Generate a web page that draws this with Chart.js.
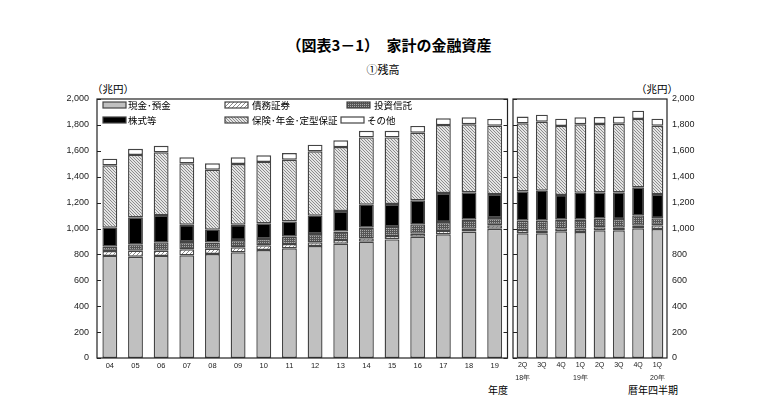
<!DOCTYPE html>
<html>
<head>
<meta charset="utf-8">
<script src="https://cdn.jsdelivr.net/npm/chart.js@4.4.1/dist/chart.umd.min.js"></script>
<style>
  body { margin: 0; background: #fff; width: 769px; height: 412px; position: relative; overflow: hidden;
         font-family: "Noto Sans CJK JP", sans-serif; }
  .t { position: absolute; white-space: nowrap; color: #000; line-height: 1; }
  canvas { position: absolute; top: 0; }
</style>
</head>
<body>
<div class="t" style="left:0;width:778px;text-align:center;top:37px;font-size:15px;font-weight:bold">（図表3－1）　家計の金融資産</div>
<div class="t" style="left:0;width:766px;text-align:center;top:64px;font-size:11px">①残高</div>
<div class="t" style="left:92px;top:84px;font-size:10.5px">（兆円）</div>
<div class="t" style="left:636px;top:84px;font-size:10.5px">（兆円）</div>
<div class="t" style="left:488px;top:385px;font-size:10px">年度</div>
<div class="t" style="left:628px;top:385px;font-size:10px">暦年四半期</div>
<canvas id="left" width="510" height="412" style="left:0"></canvas>
<canvas id="right" width="259" height="412" style="left:510px"></canvas>
<script>
// ---- data: fiscal years (left panel) ----
const FY_LABELS = ["04","05","06","07","08","09","10","11","12","13","14","15","16","17","18","19"];
const FY_CASH      = [788,782,788,793,803,816,834,847,865,883,898,916,937,955,976,998];
const FY_BONDS     = [38,47,41,46,41,39,36,33,28,28,26,26,23,26,22,27];
const FY_TRUSTS    = [34,49,64,57,47,56,49,57,65,65,82,70,72,69,70,56];
const FY_STOCKS    = [146,208,211,133,100,118,121,118,141,159,178,177,186,224,211,185];
const FY_INSURANCE = [482,482,484,474,463,469,474,476,497,494,519,514,522,525,526,528];
const FY_OTHER     = [51,48,51,47,49,52,51,52,51,52,52,52,52,52,54,52];

// ---- data: calendar quarters (right panel) ----
const Q_LABELS = [["2Q","18年"],["3Q",""],["4Q",""],["1Q","19年"],["2Q",""],["3Q",""],["4Q",""],["1Q","20年"]];
const Q_CASH      = [963,963,978,973,986,986,1001,996];
const Q_BONDS     = [25,20,23,25,23,20,21,29];
const Q_TRUSTS    = [72,77,67,70,67,67,80,54];
const Q_STOCKS    = [227,232,191,209,203,206,216,187];
const Q_INSURANCE = [525,533,533,528,528,530,528,528];
const Q_OTHER     = [52,54,56,54,54,55,64,54];

const SERIES_NAMES = ["現金･預金","債務証券","投資信託","株式等","保険･年金･定型保証","その他"];
const Y_MIN = 0, Y_MAX = 2000, Y_STEP = 200;

// ---- fills ----
function hatchTile(dir, bg, fg, size) {
  const c = document.createElement("canvas");
  c.width = c.height = size;
  const g = c.getContext("2d");
  g.fillStyle = bg; g.fillRect(0, 0, size, size);
  g.strokeStyle = fg; g.lineWidth = 1;
  g.beginPath();
  if (dir > 0) {
    g.moveTo(0, size); g.lineTo(size, 0);
    g.moveTo(-1, 1); g.lineTo(1, -1);
    g.moveTo(size - 1, size + 1); g.lineTo(size + 1, size - 1);
  } else {
    g.moveTo(0, 0); g.lineTo(size, size);
    g.moveTo(-1, size - 1); g.lineTo(1, size + 1);
    g.moveTo(size - 1, -1); g.lineTo(size + 1, 1);
  }
  g.stroke();
  return c;
}
function dotTile() {
  const c = document.createElement("canvas");
  c.width = c.height = 4;
  const g = c.getContext("2d");
  g.fillStyle = "#555"; g.fillRect(0, 0, 4, 4);
  g.fillStyle = "#a8a8a8";
  g.fillRect(0, 0, 1, 1); g.fillRect(2, 2, 1, 1);
  g.fillRect(2, 0, 1, 1); g.fillRect(0, 2, 1, 1);
  return c;
}

function fillsFor(ctx) {
  return [
    "#c0c0c0",
    ctx.createPattern(hatchTile(1, "#fff", "#8a8a8a", 4), "repeat"),
    ctx.createPattern(dotTile(), "repeat"),
    "#000",
    ctx.createPattern(hatchTile(-1, "#e4e4e4", "#8c8c8c", 3), "repeat"),
    "#fff"
  ];
}

const BORDER = "#444";

function buildDatasets(ctx, arrays, barPct) {
  const fills = fillsFor(ctx);
  return arrays.map((arr, i) => ({
    label: SERIES_NAMES[i],
    data: arr,
    backgroundColor: fills[i],
    borderColor: BORDER,
    borderWidth: 1.4,
    borderSkipped: false,
    barPercentage: barPct,
    categoryPercentage: 1
  }));
}

// frame + inward ticks
const framePlugin = {
  id: "frame",
  afterDatasetsDraw(chart, args, opts) {
    const { ctx, chartArea: a, scales: { y } } = chart;
    ctx.save();
    ctx.strokeStyle = "#222";
    ctx.lineWidth = 1.2;
    ctx.strokeRect(a.left, a.top, a.right - a.left, a.bottom - a.top);
    ctx.lineWidth = 1;
    y.ticks.forEach(t => {
      const py = Math.round(y.getPixelForValue(t.value)) + 0.5;
      ctx.beginPath();
      if (opts.left) { ctx.moveTo(a.left, py); ctx.lineTo(a.left + 4, py); }
      if (opts.right) { ctx.moveTo(a.right, py); ctx.lineTo(a.right - 4, py); }
      ctx.stroke();
    });
    ctx.restore();
  }
};

// legend drawn inside the left panel
const LEGEND_LAYOUT = [
  { series: 0, sx: 103, tx: 128, y: 105 },
  { series: 1, sx: 225, tx: 252, y: 105 },
  { series: 2, sx: 347, tx: 374, y: 105 },
  { series: 3, sx: 103, tx: 128, y: 120 },
  { series: 4, sx: 225, tx: 252, y: 120 },
  { series: 5, sx: 341, tx: 367, y: 120 }
];
const legendPlugin = {
  id: "boxLegend",
  afterDraw(chart) {
    const ctx = chart.ctx;
    ctx.save();
    ctx.font = '9.5px "Noto Sans CJK JP"';
    ctx.textBaseline = "middle";
    LEGEND_LAYOUT.forEach(it => {
      const ds = chart.data.datasets[it.series];
      ctx.fillStyle = ds.backgroundColor;
      ctx.fillRect(it.sx, it.y - 3, 23, 6);
      ctx.strokeStyle = BORDER;
      ctx.lineWidth = 1.2;
      ctx.strokeRect(it.sx, it.y - 3, 23, 6);
      ctx.fillStyle = "#000";
      const maxW = (it.series === 4) ? 86 : undefined;
      if (maxW) ctx.fillText(ds.label, it.tx, it.y + 0.5, maxW);
      else ctx.fillText(ds.label, it.tx, it.y + 0.5);
    });
    ctx.restore();
  }
};

const tickFont = { family: '"Liberation Sans", Arial, sans-serif', size: 9 };
const xFont = { family: '"Liberation Sans", Arial, sans-serif', size: 7.5 };

function yScale(position, width, pad) {
  return {
    position,
    stacked: true,
    min: Y_MIN, max: Y_MAX,
    grid: { display: false, drawTicks: false },
    border: { display: false },
    ticks: { stepSize: Y_STEP, font: tickFont, color: "#222", padding: pad,
             callback: v => v.toLocaleString("en-US") },
    afterFit: s => { s.width = width; }
  };
}

// left chart
const lctx = document.getElementById("left").getContext("2d");
new Chart(lctx, {
  type: "bar",
  data: {
    labels: FY_LABELS,
    datasets: buildDatasets(lctx, [FY_CASH, FY_BONDS, FY_TRUSTS, FY_STOCKS, FY_INSURANCE, FY_OTHER], 0.58)
  },
  options: {
    responsive: false,
    animation: false,
    layout: { padding: { top: 99, right: 2.5, left: 0, bottom: 0 } },
    plugins: { legend: { display: false }, tooltip: { enabled: false }, frame: { left: true, right: true } },
    scales: {
      x: {
        stacked: true,
        grid: { display: false, drawTicks: false },
        border: { display: false },
        ticks: { font: xFont, color: "#222", padding: 3.5, maxRotation: 0, autoSkip: false },
        afterFit: s => { s.height = 54; }
      },
      y: yScale("left", 97, 8)
    }
  },
  plugins: [framePlugin, legendPlugin]
});

// right chart
const rctx = document.getElementById("right").getContext("2d");
new Chart(rctx, {
  type: "bar",
  data: {
    labels: Q_LABELS,
    datasets: buildDatasets(rctx, [Q_CASH, Q_BONDS, Q_TRUSTS, Q_STOCKS, Q_INSURANCE, Q_OTHER], 0.62)
  },
  options: {
    responsive: false,
    animation: false,
    layout: { padding: { top: 99, right: 0, left: 3, bottom: 0 } },
    plugins: { legend: { display: false }, tooltip: { enabled: false }, frame: { left: true, right: false } },
    scales: {
      x: {
        stacked: true,
        grid: { display: false, drawTicks: false },
        border: { display: false },
        ticks: { font: { ...xFont, size: 7, lineHeight: 1.8 }, color: "#222", padding: 1, maxRotation: 0, autoSkip: false },
        afterFit: s => { s.height = 54; }
      },
      y: yScale("right", 102, 5)
    }
  },
  plugins: [framePlugin]
});
</script>
</body>
</html>
